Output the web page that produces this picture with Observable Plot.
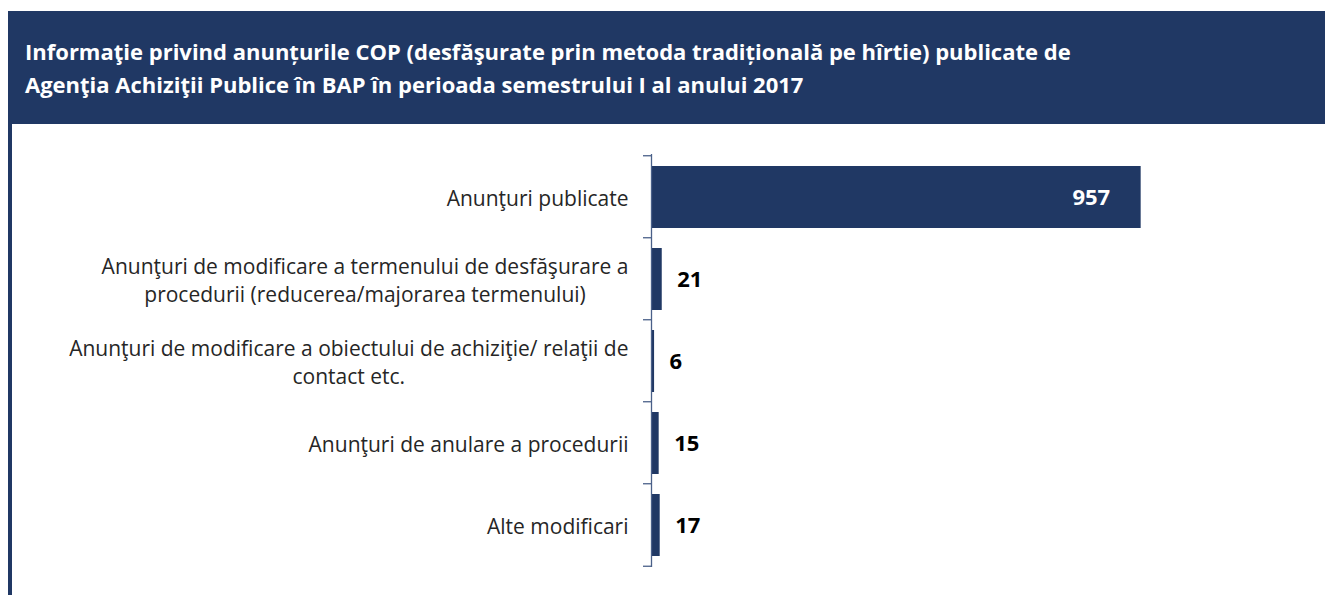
<!DOCTYPE html>
<html>
<head>
<meta charset="utf-8">
<script src="https://cdn.jsdelivr.net/npm/d3@7"></script>
<script src="https://cdn.jsdelivr.net/npm/@observablehq/plot@0.6"></script>
<style>
  html, body { margin: 0; padding: 0; background: #fff; }
  body { width: 1325px; height: 595px; position: relative; overflow: hidden; font-family: "Open Sans", sans-serif; }
  #banner { position: absolute; left: 8px; top: 11px; width: 1317px; height: 113px; background: #203864; }
  #banner h1 { margin: 0; padding: 24px 0 0 17px; color: #fff; font-size: 22px; line-height: 33px; font-weight: bold; font-family: "Open Sans", sans-serif; white-space: nowrap; }
  #leftbar { position: absolute; left: 8px; top: 124px; width: 4px; height: 471px; background: #203864; }
  #chart { position: absolute; left: 0; top: 124px; }
</style>
</head>
<body>
<div id="banner"><h1 id="title"></h1></div>
<div id="leftbar"></div>
<div id="chart"></div>
<script>
const titleLines = [
  "Informaţie privind anunțurile COP (desfăşurate prin metoda tradițională pe hîrtie) publicate de",
  "Agenţia Achiziţii Publice în BAP în perioada semestrului I al anului 2017"
];
const categories = [
  "Anunţuri publicate",
  "Anunţuri de modificare a termenului de desfăşurare a\nprocedurii (reducerea/majorarea termenului)",
  "Anunţuri de modificare a obiectului de achiziţie/ relaţii de\ncontact etc.",
  "Anunţuri de anulare a procedurii",
  "Alte modificari"
];
const values = [957, 21, 6, 15, 17];

document.getElementById("title").innerHTML = titleLines.join("<br>");

const data = categories.map((c, i) => ({category: c, value: values[i]}));
const navy = "#203864";
const axisColor = "#4a6089";

const plot = Plot.plot({
  width: 1325,
  height: 471,
  marginLeft: 651,
  marginRight: 60,
  marginTop: 30,
  marginBottom: 28,
  style: {fontFamily: "'Open Sans', sans-serif", background: "transparent"},
  x: {domain: [0, 1200], axis: null},
  y: {domain: categories, paddingInner: 0.25, paddingOuter: 0.125, label: null},
  marks: [
    Plot.barX(data, {x: "value", y: "category", fill: navy}),
    Plot.ruleX([0], {stroke: axisColor, strokeWidth: 1.3}),
    Plot.axisY({tickSize: 0, tickPadding: 23, fontSize: 21, lineHeight: 1.33, fill: "#262626"}),
    Plot.text(data.filter(d => d.value < 500), {
      x: "value", y: "category", text: d => String(d.value),
      textAnchor: "start", dx: 15, fontWeight: "bold", fontSize: 22, fill: "#000"
    }),
    Plot.text(data.filter(d => d.value >= 500), {
      x: "value", y: "category", text: d => String(d.value),
      textAnchor: "end", dx: -31, fontWeight: "bold", fontSize: 22, fill: "#fff"
    })
  ]
});
document.getElementById("chart").appendChild(plot);

// tick marks at band boundaries, from the plot's own scales
const ys = plot.scale("y");
const xs = plot.scale("x");
const x0 = xs.apply(0);
const half = ys.step * ys.paddingInner / 2;
const bounds = [];
categories.forEach((c, i) => {
  const start = ys.apply(c);
  bounds.push(start - half);
  if (i === categories.length - 1) bounds.push(start + ys.bandwidth + half);
});
d3.select(plot).append("g")
  .attr("stroke", axisColor).attr("stroke-width", 1.3)
  .selectAll("line").data(bounds).join("line")
  .attr("x1", x0 - 8).attr("x2", x0).attr("y1", d => d).attr("y2", d => d);

// centre multi-line labels on each other, right edge kept at the tick padding
d3.select(plot).selectAll('g[aria-label="y-axis tick label"] text').each(function() {
  const w = this.getBBox().width;
  this.setAttribute("text-anchor", "middle");
  const t = this.getAttribute("transform") || "";
  this.setAttribute("transform", t + ` translate(${-w / 2},0)`);
});
</script>
</body>
</html>
